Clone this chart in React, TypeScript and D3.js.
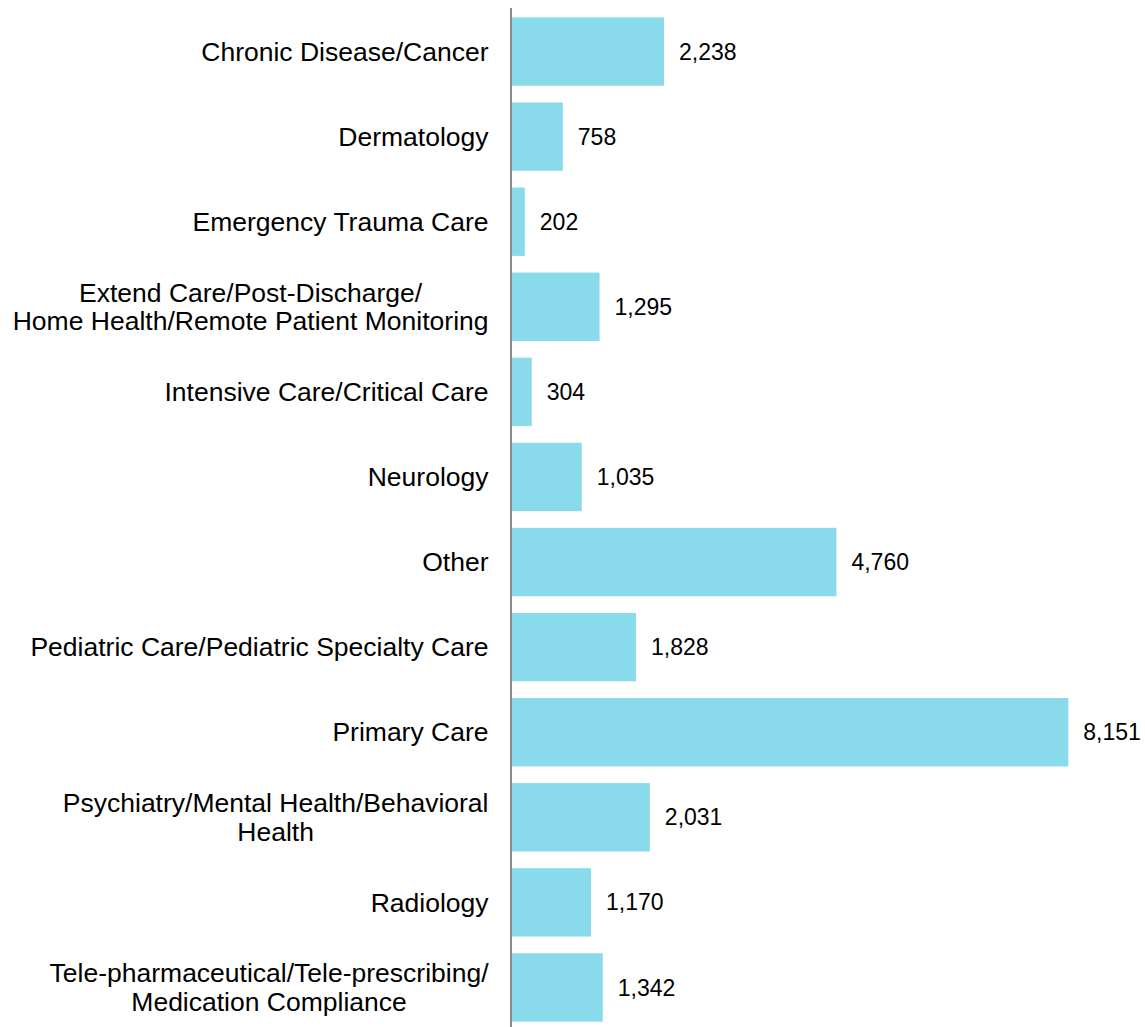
import React, { useEffect, useRef } from 'react';
import * as d3 from 'd3';

// categories (lines split where the original breaks them)
const categories: string[][] = [
  ['Chronic Disease/Cancer'],
  ['Dermatology'],
  ['Emergency Trauma Care'],
  ['Extend Care/Post-Discharge/', 'Home Health/Remote Patient Monitoring'],
  ['Intensive Care/Critical Care'],
  ['Neurology'],
  ['Other'],
  ['Pediatric Care/Pediatric Specialty Care'],
  ['Primary Care'],
  ['Psychiatry/Mental Health/Behavioral', 'Health'],
  ['Radiology'],
  ['Tele-pharmaceutical/Tele-prescribing/', 'Medication Compliance'],
];
const values: number[] = [2238, 758, 202, 1295, 304, 1035, 4760, 1828, 8151, 2031, 1170, 1342];

const W = 1145;
const H = 1027;

const App: React.FC = () => {
  const svgRef = useRef<SVGSVGElement>(null);

  useEffect(() => {
    if (!svgRef.current) return;
    const svg = d3.select(svgRef.current);
    svg.selectAll('*').remove();

    const font = '"Liberation Sans", Arial, sans-serif';
    const keys = categories.map((c) => c.join(' '));

    const y = d3.scaleBand<string>()
      .domain(keys)
      .range([9, 1030])
      .paddingInner(0.196)
      .paddingOuter(0.098);

    const x = d3.scaleLinear()
      .domain([0, d3.max(values) as number])
      .range([511, 1068.3]);

    const fmt = d3.format(',');

    // bars
    svg.append('g')
      .selectAll('rect')
      .data(values)
      .enter().append('rect')
      .attr('x', x(0))
      .attr('y', (_, i) => y(keys[i]) as number)
      .attr('width', (d) => x(d) - x(0))
      .attr('height', y.bandwidth())
      .attr('fill', '#89DBEB');

    // value labels
    svg.append('g')
      .selectAll('text')
      .data(values)
      .enter().append('text')
      .attr('x', (d) => x(d) + 15)
      .attr('y', (_, i) => (y(keys[i]) as number) + y.bandwidth() / 2)
      .attr('dy', '0.35em')
      .style('font-family', font)
      .style('font-size', '23px')
      .style('fill', '#000')
      .text((d) => fmt(d));

    // category labels: block right-aligned, lines centred within it
    const labelRight = 488.5;
    const lineH = 28.5;
    const lab = svg.append('g');
    categories.forEach((lines, i) => {
      const cy = (y(keys[i]) as number) + y.bandwidth() / 2;
      const t = lab.append('text')
        .style('font-family', font)
        .style('font-size', '26.5px')
        .style('fill', '#000')
        .attr('text-anchor', 'middle');
      const spans = lines.map((ln, j) =>
        t.append('tspan')
          .attr('y', cy + (j - (lines.length - 1) / 2) * lineH)
          .attr('dy', '0.35em')
          .text(ln)
      );
      const maxW = d3.max(spans, (s) => (s.node() as SVGTSpanElement).getComputedTextLength()) as number;
      spans.forEach((s) => s.attr('x', labelRight - maxW / 2));
    });

    // axis line
    svg.append('line')
      .attr('x1', x(0))
      .attr('x2', x(0))
      .attr('y1', 8)
      .attr('y2', H)
      .attr('stroke', '#8c8c8c')
      .attr('stroke-width', 2);
  }, []);

  return (
    <svg
      ref={svgRef}
      width={W}
      height={H}
      style={{ position: 'absolute', left: 0, top: 0, background: '#fff' }}
    />
  );
};

export default App;
